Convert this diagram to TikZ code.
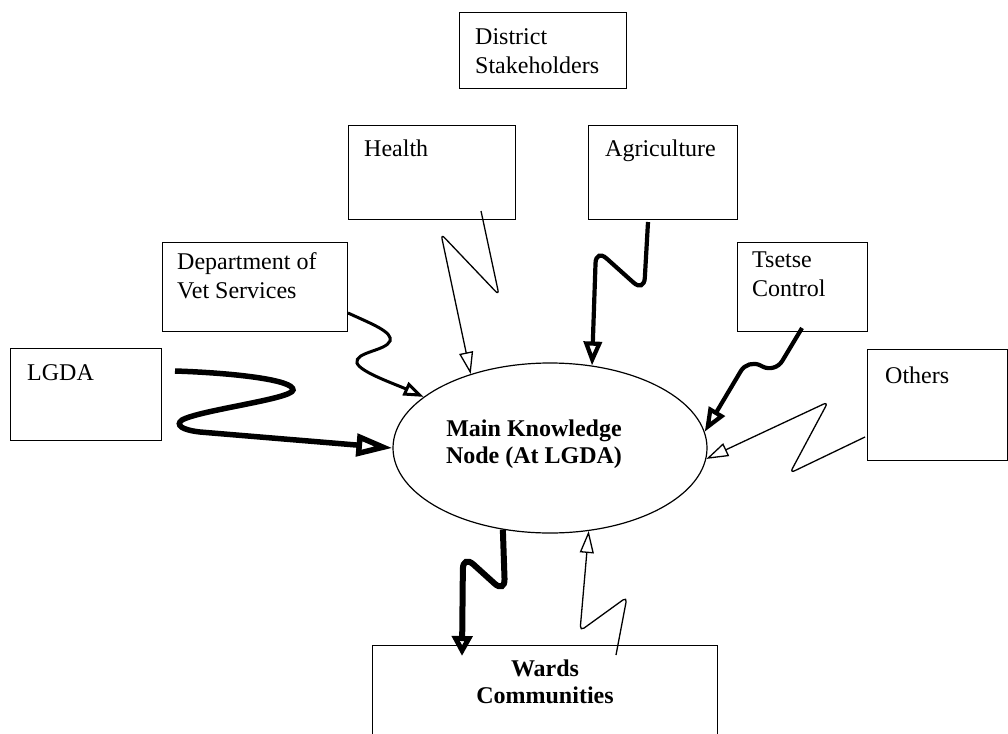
\documentclass[tikz,border=0pt]{standalone}
\usepackage{fontspec}
\setmainfont{Liberation Serif}
\usetikzlibrary{arrows.meta,shapes.geometric}
\begin{document}
\begin{tikzpicture}[x=1pt,y=-1pt,
  box/.style={draw, line width=1.2pt, rectangle, inner sep=0pt, anchor=north west},
  lbl/.style={inner sep=0pt, anchor=north west, align=left, font=\fontsize{24}{29}\selectfont},
  blbl/.style={inner sep=0pt, anchor=north, align=center, font=\bfseries\fontsize{24}{27}\selectfont},
  thinline/.style={line width=1.3pt, rounded corners=5pt, -{Triangle[open,length=22pt,width=14pt]}},
  midline/.style={line width=3pt, -{Triangle[open,length=20pt,width=14pt]}},
  thickline/.style={line width=4.2pt, rounded corners=14pt, -{Triangle[open,length=24pt,width=18pt]}},
  heavyline/.style={line width=5.5pt, -{Triangle[open,length=36pt,width=22pt]}},
  heavydown/.style={line width=6pt, rounded corners=14pt, -{Triangle[open,length=20pt,width=20pt]}},
]
\useasboundingbox (0,0) rectangle (1008,733);
\clip (0,0) rectangle (1008,733);
\fill[white] (0,0) rectangle (1008,733);

% boxes
\node[box, minimum width=167pt, minimum height=76pt] (district) at (459,12) {};
\node[box, minimum width=167pt, minimum height=94pt] (health) at (348,125) {};
\node[box, minimum width=149pt, minimum height=94pt] (agri) at (588,125) {};
\node[box, minimum width=185pt, minimum height=89pt] (vet) at (162,242) {};
\node[box, minimum width=130pt, minimum height=89pt] (tsetse) at (737,242) {};
\node[box, minimum width=151pt, minimum height=92pt] (lgda) at (10,348) {};
\node[box, minimum width=140pt, minimum height=111pt] (others) at (867,349) {};
\node[box, minimum width=345pt, minimum height=120pt] (wards) at (372,645) {};
\node[draw, line width=1.2pt, ellipse, minimum width=314pt, minimum height=170pt, inner sep=0pt] (main) at (550,448) {};

% labels
\node[lbl] (tdistrict) at (475,28) {District\\Stakeholders};
\node[lbl] (thealth) at (364,140) {Health};
\node[lbl] (tagri) at (605,140) {Agriculture};
\node[lbl] (tvet) at (177,252) {Department of\\Vet Services};
\node[lbl] (ttsetse) at (752,252) {Tsetse\\Control};
\node[lbl] (tlgda) at (27,364) {LGDA};
\node[lbl] (tothers) at (885,367) {Others};
\node[blbl] (tmain) at (534,419.5) {Main Knowledge\\Node (At LGDA)};
\node[blbl] (twards) at (545,660) {Wards\\Communities};

% connector end points
\coordinate (sLgda) at (175,371);
\coordinate (sVet) at (348,313);
\coordinate (sHealth) at (481,211);
\coordinate (sAgri) at (648,222);
\coordinate (sTsetse) at (802,328);
\coordinate (sOthers) at (865,437);
\coordinate (eWards) at (462,656);
\coordinate (sWards) at (616,655);

% connectors
\draw[heavyline] (sLgda) .. controls (235,373) and (294,380) .. (293,390)
  .. controls (292,399) and (200,410) .. (182,420)
  .. controls (175,425) and (182,430) .. (200,432) -- (main.west);
\draw[midline] (sVet) .. controls (372,324) and (393,332) .. (390,341)
  .. controls (386,351) and (354,352) .. (357,363)
  .. controls (360,372) and (395,384) .. (main.158);
\draw[thinline] (sHealth) -- (499,295) -- (441,234) -- (main.137);
\draw[thickline] (sAgri) -- (644,292) -- (596,249) -- (main.63);
\draw[thickline] (sTsetse) -- (775,373) -- (748,359) -- (main.6);
\draw[thinline] (sOthers) -- (790,473) -- (828,402) -- (main.-4);
\draw[heavydown] (main.-120) -- (505,593) -- (463,555) -- (eWards);
\draw[thinline] (sWards) -- (627,597) -- (580,631) -- (main.-65);
\end{tikzpicture}
\end{document}
